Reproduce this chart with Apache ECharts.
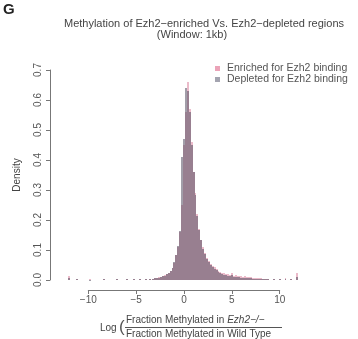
<!DOCTYPE html>
<html>
<head>
<meta charset="utf-8">
<script src="https://cdn.jsdelivr.net/npm/echarts@6/dist/echarts.min.js"></script>
<style>html,body{margin:0;padding:0;background:#fff}#c{width:358px;height:339px}</style>
</head>
<body>
<div id="c"></div>
<script>
// Bin centers (log ratio), bin width 0.2
const binCenters = [-12.0,-11.2,-9.8,-8.4,-7.0,-6.0,-5.2,-4.6,-4.0,-3.6,
  -3.2,-3.0,-2.8,-2.6,-2.4,-2.2,-2.0,-1.8,-1.6,-1.4,-1.2,-1.0,-0.8,-0.6,-0.4,-0.2,
  0.0,0.2,0.4,0.6,0.8,1.0,1.2,1.4,1.6,1.8,2.0,2.2,2.4,2.6,2.8,3.0,3.2,3.4,3.6,3.8,
  4.0,4.2,4.4,4.6,4.8,5.0,5.2,5.4,5.6,5.8,6.0,6.2,6.4,6.6,6.8,7.0,7.2,7.4,7.6,7.8,
  8.0,8.2,8.4,8.6,8.8,9.4,10.0,10.6,11.2,11.8];
const enrichedDensity = [0.012,0.002,0.002,0.002,0.002,0.003,0.003,0.004,0.004,0.005,
  0.005,0.006,0.007,0.009,0.011,0.013,0.016,0.020,0.025,0.031,0.040,0.058,0.082,0.110,0.160,0.250,
  0.450,0.560,0.660,0.570,0.460,0.360,0.290,0.220,0.170,0.135,0.110,0.090,0.075,0.063,0.054,0.048,0.042,0.036,0.031,0.027,
  0.024,0.022,0.020,0.019,0.017,0.022,0.015,0.016,0.013,0.014,0.012,0.011,0.012,0.010,0.009,0.010,0.008,0.008,0.007,0.006,
  0.006,0.005,0.005,0.004,0.004,0.004,0.003,0.006,0.004,0.022];
const depletedDensity = [0.006,0.002,0.001,0.002,0.002,0.002,0.003,0.003,0.004,0.004,
  0.005,0.006,0.007,0.008,0.010,0.012,0.015,0.019,0.024,0.030,0.040,0.060,0.085,0.115,0.165,0.410,
  0.470,0.640,0.630,0.560,0.450,0.360,0.285,0.215,0.168,0.132,0.105,0.086,0.071,0.059,0.050,0.044,0.038,0.032,0.027,0.023,
  0.020,0.018,0.016,0.014,0.013,0.016,0.011,0.010,0.009,0.009,0.008,0.008,0.007,0.007,0.006,0.006,0.005,0.005,0.005,0.004,
  0.004,0.004,0.003,0.003,0.003,0.003,0.003,0.004,0.003,0.010];
const binWidth = 0.2;
const seriesNames = ['Enriched for Ezh2 binding', 'Depleted for Ezh2 binding'];
const xTicks = [-10, -5, 0, 5, 10];
const yTicks = [0, 0.1, 0.2, 0.3, 0.4, 0.5, 0.6, 0.7];

const colors = ['rgba(215,120,150,0.5)', 'rgba(85,78,98,0.55)'];
const legendColors = ['#eba3b8', '#a4a4b0'];

function rectRenderer(color) {
  return function (params, api) {
    const c = api.value(0), d = api.value(1);
    const p0 = api.coord([c - binWidth / 2, d]);
    const p1 = api.coord([c + binWidth / 2, 0]);
    const x0 = Math.round(p0[0]), x1 = Math.round(p1[0]);
    const y0 = Math.round(p0[1]), y1 = Math.round(p1[1]);
    return { type: 'rect', shape: { x: x0, y: y0, width: Math.max(1, x1 - x0), height: Math.max(1, y1 - y0) },
      style: { fill: color } };
  };
}

const chart = echarts.init(document.getElementById('c'), null, { renderer: 'canvas' });
const font = 'Arial, "Liberation Sans", sans-serif';
chart.setOption({
  animation: false,
  textStyle: { fontFamily: font },
  grid: [
    { left: 50, top: 70, width: 268, height: 210 },
    { left: 88.3, top: 289, width: 191.4, height: 1 }
  ],
  xAxis: [
    { gridIndex: 0, type: 'value', min: -14, max: 14, show: false },
    { gridIndex: 1, type: 'value', min: xTicks[0], max: xTicks[xTicks.length - 1], interval: 5,
      axisLine: { show: true, onZero: false, lineStyle: { color: '#777', width: 1 } },
      axisTick: { show: true, length: 4, lineStyle: { color: '#777' } },
      splitLine: { show: false },
      axisLabel: { fontSize: 10, color: '#555', margin: 5, fontFamily: font,
        formatter: v => (v < 0 ? '\u2212' + Math.abs(v) : String(v)) } }
  ],
  yAxis: [
    { gridIndex: 0, type: 'value', min: yTicks[0], max: yTicks[yTicks.length - 1], interval: 0.1,
      axisLine: { show: true, onZero: false, lineStyle: { color: '#777', width: 1 } },
      axisTick: { show: true, length: 4, lineStyle: { color: '#777' } },
      splitLine: { show: false },
      axisLabel: { fontSize: 10, color: '#555', rotate: 90, margin: 7, fontFamily: font,
        formatter: v => v.toFixed(1) },
      name: 'Density', nameLocation: 'middle', nameGap: 28, nameRotate: 90,
      nameTextStyle: { fontSize: 10, color: '#444', fontFamily: font } },
    { gridIndex: 1, type: 'value', show: false }
  ],
  legend: {
    orient: 'vertical', left: 215, top: 63, itemGap: 0, itemWidth: 5, itemHeight: 5,
    padding: 0, icon: 'rect',
    textStyle: { fontSize: 10.5, color: '#555', padding: [0, 0, 0, 2], fontFamily: font },
    data: seriesNames.map((n, i) => ({ name: n, itemStyle: { color: legendColors[i] } }))
  },
  series: [
    { name: seriesNames[0], type: 'custom', xAxisIndex: 0, yAxisIndex: 0,
      itemStyle: { color: legendColors[0] },
      renderItem: rectRenderer(colors[0]), encode: { x: 0, y: 1 },
      data: binCenters.map((c, i) => [c, enrichedDensity[i]]) },
    { name: seriesNames[1], type: 'custom', xAxisIndex: 0, yAxisIndex: 0,
      itemStyle: { color: legendColors[1] },
      renderItem: rectRenderer(colors[1]), encode: { x: 0, y: 1 },
      data: binCenters.map((c, i) => [c, depletedDensity[i]]) }
  ],
  graphic: [
    { type: 'text', left: 3, top: 2, style: { text: 'G', font: 'bold 15px ' + font, fill: '#222' } },
    { type: 'text', x: 204, y: 24, style: { text: 'Methylation of Ezh2\u2212enriched Vs. Ezh2\u2212depleted regions',
      font: '11px ' + font, fill: '#444', align: 'center', verticalAlign: 'middle' } },
    { type: 'text', x: 192, y: 35, style: { text: '(Window: 1kb)',
      font: '11px ' + font, fill: '#444', align: 'center', verticalAlign: 'middle' } },
    { type: 'text', x: 100, y: 328, style: { text: 'Log', font: '10px ' + font, fill: '#444', verticalAlign: 'middle' } },
    { type: 'text', x: 119, y: 327, style: { text: '(', font: '17px ' + font, fill: '#555', verticalAlign: 'middle' } },
    { type: 'text', x: 126, y: 320, style: {
      text: '{n|Fraction Methylated in }{i|Ezh2\u2212/\u2212}', verticalAlign: 'middle',
      rich: { n: { font: '10px ' + font, fill: '#444' }, i: { font: 'italic 10px ' + font, fill: '#444' } } } },
    { type: 'line', shape: { x1: 125, y1: 327.5, x2: 282, y2: 327.5 }, style: { stroke: '#555', lineWidth: 1 } },
    { type: 'text', x: 126, y: 334, style: { text: 'Fraction Methylated in Wild Type',
      font: '10px ' + font, fill: '#444', verticalAlign: 'middle' } }
  ]
});
</script>
</body>
</html>
